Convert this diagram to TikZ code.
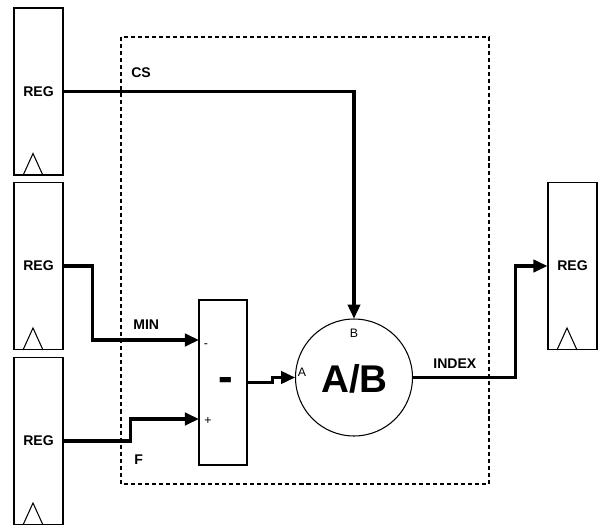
\documentclass[tikz,border=0pt]{standalone}
\usepackage{fontspec}
\setmainfont{Liberation Sans}
\usetikzlibrary{arrows.meta}
\begin{document}
\begin{tikzpicture}[x=0.02cm,y=-0.02cm,
  regbox/.style={draw,line width=0.6pt,minimum width=0.98cm,minimum height=3.34cm,inner sep=0pt,font=\bfseries\fontsize{8}{9}\selectfont},
  wire/.style={line width=1.8pt},
  arr/.style={wire,-{Triangle[length=8pt,width=7pt]}},
  lbl/.style={anchor=west,inner sep=0pt,font=\bfseries\fontsize{8}{9}\selectfont},
  port/.style={inner sep=0pt,font=\fontsize{7}{8}\selectfont}]
  \useasboundingbox (0,0) rectangle (600,525);
  % frame of the unit
  \draw[line width=0.6pt,dash pattern=on 2.3pt off 1.7pt] (121,37) rectangle (489,484);
  % registers
  \node[regbox] (reg1) at (38.5,91.5) {REG};
  \node[regbox] (reg2) at (38.5,266) {REG};
  \node[regbox] (reg3) at (38.5,441) {REG};
  \node[regbox] (reg4) at (572.5,266) {REG};
  \foreach \r in {reg1,reg2,reg3,reg4}
    \draw[line width=0.6pt] (\r.south) ++(-15.5,0) -- ++(10,-22) -- ++(10,22);
  % subtractor and divider
  \node[draw,line width=0.6pt,minimum width=0.96cm,minimum height=3.3cm,inner sep=0pt] (sub) at (223,382.5) {};
  \node[font=\bfseries\fontsize{25}{26}\selectfont] at (226,384) {-};
  \node[circle,minimum size=2.34cm,inner sep=0pt] (div) at (354,377.5) {};
  \draw[line width=0.6pt] (div.center) circle[radius=1.17cm];
  \node[font=\bfseries\fontsize{22}{24}\selectfont] at (354.5,379) {A/B};
  \coordinate (submin) at (199,340);
  \coordinate (subplus) at (199,419);
  \node[port] at (206,346) {-};
  \node[port] at (208,421) {+};
  \node[port] at (302,372) {A};
  \node[port] at (354,333) {B};
  % wires
  \draw[arr] (reg1.east) -| (div.north);
  \draw[arr] (reg2.east) -- ++(29,0) |- (submin);
  \draw[arr] (reg3.east) -- ++(67,0) |- (subplus);
  \draw[arr] (sub.east) -- ++(25,0) |- (div.west);
  \draw[arr] (div.east) -- ++(103,0) |- (reg4.west);
  \node[lbl] at (131,73) {CS};
  \node[lbl] at (133,325) {MIN};
  \node[lbl] at (134,460) {F};
  \node[lbl] at (433,364) {INDEX};
\end{tikzpicture}
\end{document}
